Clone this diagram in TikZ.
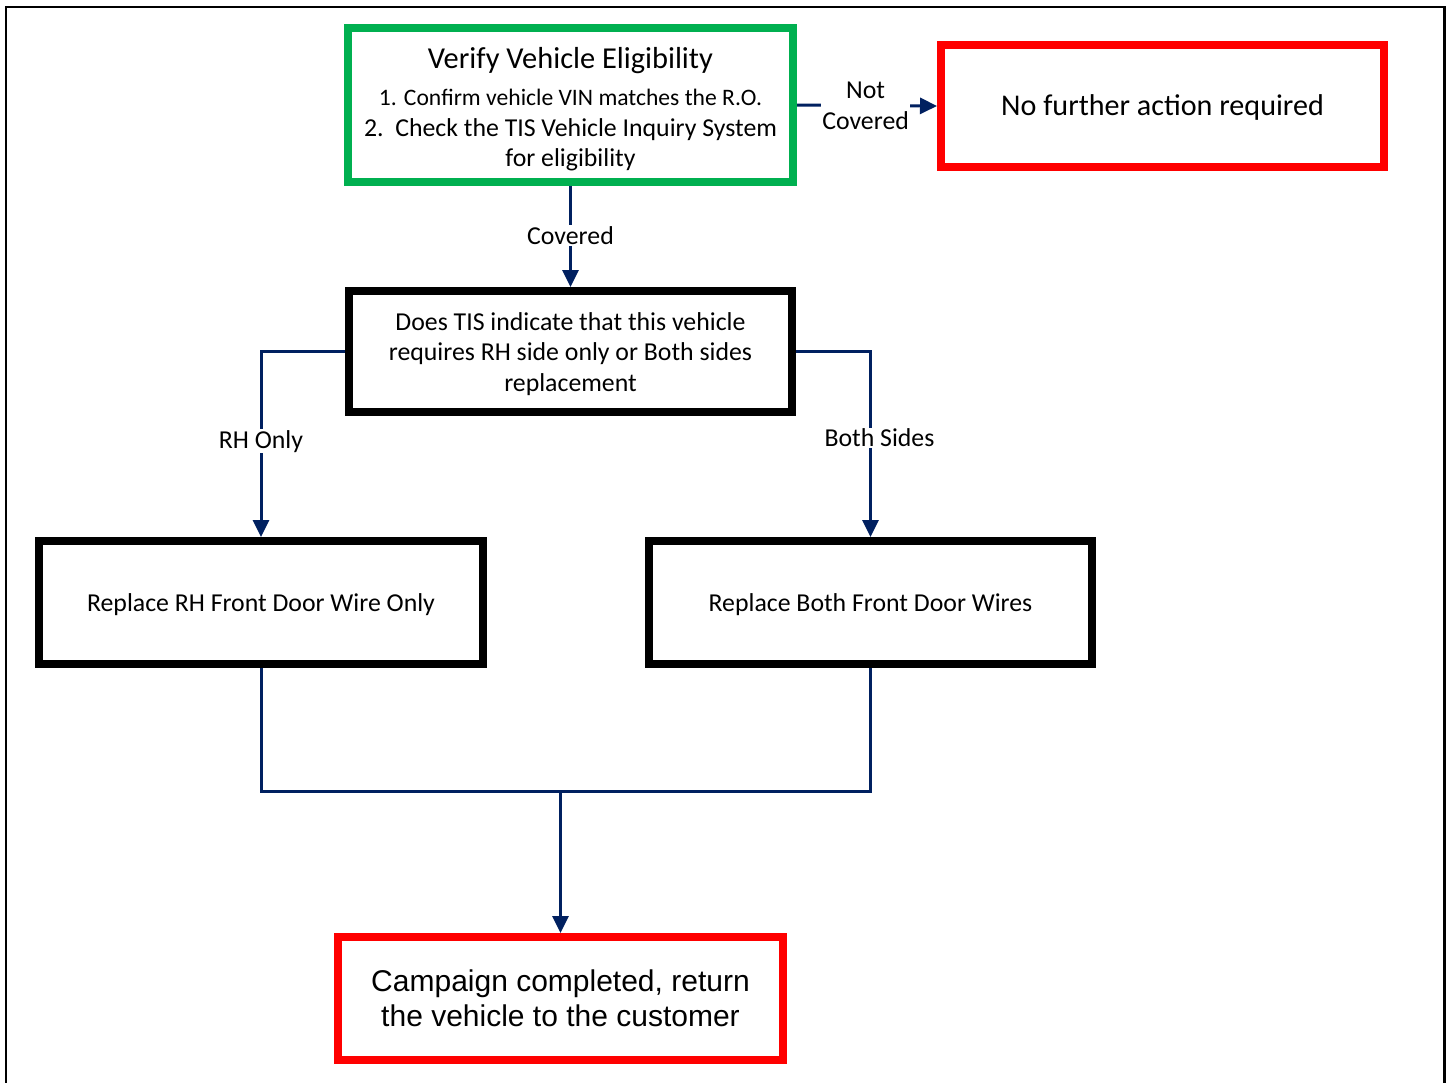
\documentclass[tikz,border=0pt]{standalone}
\usepackage{fontspec}
\setmainfont{Carlito}
\newfontfamily\arialfont{Liberation Sans}
\usetikzlibrary{arrows.meta,shadows}
\definecolor{navy}{HTML}{002060}
\definecolor{boxgreen}{HTML}{00B050}
\definecolor{boxred}{HTML}{FF0000}
\definecolor{glow}{HTML}{E6EEF8}
\tikzset{
  box/.style={draw, line width=8pt, fill=white, align=center, inner sep=0pt,
    drop shadow={shadow xshift=1pt, shadow yshift=-4pt, fill=glow, opacity=1, draw=none}},
  conn/.style={draw=navy, line width=3pt},
  tip/.style={-{Triangle[length=17pt,width=16pt]}},
  lbl/.style={fill=white, inner sep=1pt, align=center, font=\fontsize{25.8}{31}\selectfont, text=black},
}
\begin{document}
\begin{tikzpicture}[x=1pt,y=-1pt]
\useasboundingbox (0,0) rectangle (1447,1082);
\fill[white] (0,0) rectangle (1447,1082);
\draw[line width=2.5pt] (6,1090) -- (6,7) -- (1444.7,7) -- (1444.7,1090);

\node[box, draw=boxgreen, minimum width=445pt, minimum height=154pt, font=\fontsize{25.8}{30.5}\selectfont] (verify) at (570.5,105)
  {{\fontsize{30.4}{30.5}\selectfont\rule{0pt}{29.5pt}Verify Vehicle Eligibility}\\[6.5pt]
   {\fontsize{23.6}{30.5}\selectfont 1. Confirm vehicle VIN matches the R.O.}\\
   2.\ \ Check the TIS Vehicle Inquiry System\\
   for eligibility};
\node[box, draw=boxred, minimum width=443pt, minimum height=122pt, font=\fontsize{30.1}{34}\selectfont] (nofurther) at (1162.5,106) {\rule{0pt}{24pt}No further action required};
\node[box, draw=black, minimum width=443pt, minimum height=121pt, font=\fontsize{25.8}{30.5}\selectfont] (decide) at (570.5,351.5)
  {\rule{0pt}{23pt}Does TIS indicate that this vehicle\\ requires RH side only or Both sides\\ replacement};
\node[box, draw=black, minimum width=444pt, minimum height=123pt, font=\fontsize{25.8}{30}\selectfont] (rhonly) at (261,602.5) {\rule{0pt}{23pt}Replace RH Front Door Wire Only};
\node[box, draw=black, minimum width=443pt, minimum height=123pt, font=\fontsize{25.8}{30}\selectfont] (both) at (870.5,602.5) {\rule{0pt}{23pt}Replace Both Front Door Wires};
\node[box, draw=boxred, minimum width=445pt, minimum height=123pt, font=\arialfont\fontsize{30}{35.5}\selectfont] (done) at (560.5,998.5)
  {Campaign completed, return\\ the vehicle to the customer};

\coordinate (join) at (560.5,791);

\draw[conn, tip] (verify.east) -- (nofurther.west) node[lbl, pos=0.49] {Not\\Covered};
\draw[conn, tip] (verify.south) -- (decide.north) node[lbl, midway, yshift=1pt] {Covered};
\draw[conn, tip] (decide.west) -| (rhonly.north) node[lbl, pos=0.742] {RH Only};
\draw[conn, tip] (decide.east) -| (both.north) node[lbl, pos=0.732, xshift=9pt] {Both Sides};
\draw[conn] (rhonly.south) |- (join) -| (both.south);
\draw[conn, tip] (join) -- (done.north);
\end{tikzpicture}
\end{document}
